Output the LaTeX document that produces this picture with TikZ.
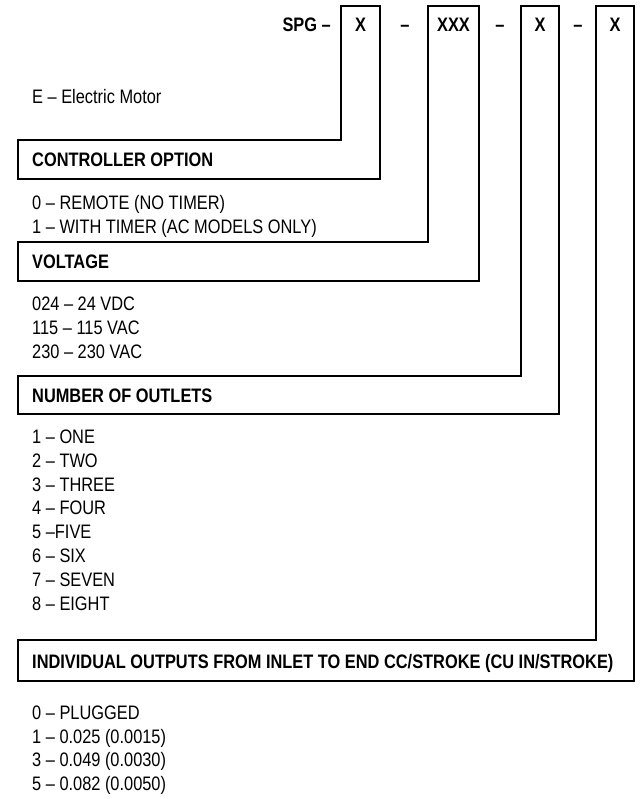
\documentclass[tikz,border=0pt]{standalone}
\usepackage{fontspec}
\setmainfont{Liberation Sans}[FakeStretch=0.84]
\begin{document}
\begin{tikzpicture}[x=1pt,y=-1pt,
		outline/.style={draw=black, line width=1.9pt, line join=miter},
		item/.style={anchor=base west, inner sep=0pt, font=\fontsize{19.5}{21}\selectfont},
		head/.style={anchor=base west, inner sep=0pt, font=\fontsize{19.5}{21}\selectfont\bfseries},
		code/.style={anchor=base, inner sep=0pt, font=\fontsize{19.5}{21}\selectfont\bfseries}]
			\useasboundingbox (0,0) rectangle (639,799);
			\draw[outline](341,6) -- (380,6) -- (380,179) -- (18,179) -- (18,140) -- (341,140) -- cycle;
			\draw[outline](428,6) -- (479,6) -- (479,281) -- (18,281) -- (18,242) -- (428,242) -- cycle;
			\draw[outline](521,6) -- (559,6) -- (559,414) -- (18,414) -- (18,376) -- (521,376) -- cycle;
			\draw[outline](596,6) -- (634,6) -- (634,681) -- (18,681) -- (18,640) -- (596,640) -- cycle;
			\node[code, anchor=base east] (spg) at (331,32) {SPG –};
			\node[code] (motor) at (360.5,32) {X};
			\node[code] (dasha) at (405,32) {–};
			\node[code] (volt) at (453.5,32) {XXX};
			\node[code] (dashb) at (500,32) {–};
			\node[code] (outl) at (540,32) {X};
			\node[code] (dashc) at (578,32) {–};
			\node[code] (outp) at (615,32) {X};
			\node[item] (e) at (32,104) {E – Electric Motor};
			\node[head] (ctrlhead) at (32,167) {CONTROLLER OPTION};
			\node[item] (ctrla) at (32,210) {0 – REMOTE (NO TIMER)};
			\node[item] (ctrlb) at (32,234) {1 – WITH TIMER (AC MODELS ONLY)};
			\node[head] (volthead) at (32,269) {VOLTAGE};
			\node[item] (volta) at (32,310) {024 – 24 VDC};
			\node[item] (voltb) at (32,334) {115 – 115 VAC};
			\node[item] (voltc) at (32,358) {230 – 230 VAC};
			\node[head] (outlhead) at (32,402) {NUMBER OF OUTLETS};
			\node[item] (outla) at (32,443) {1 – ONE};
			\node[item] (outlb) at (32,467) {2 – TWO};
			\node[item] (outlc) at (32,491) {3 – THREE};
			\node[item] (outld) at (32,514) {4 – FOUR};
			\node[item] (outle) at (32,538) {5 –FIVE};
			\node[item] (outlf) at (32,562) {6 – SIX};
			\node[item] (outlg) at (32,586) {7 – SEVEN};
			\node[item] (outlh) at (32,610) {8 – EIGHT};
			\node[head] (outphead) at (32,668) {INDIVIDUAL OUTPUTS FROM INLET TO END CC/STROKE (CU IN/STROKE)};
			\node[item] (outpa) at (32,719) {0 – PLUGGED};
			\node[item] (outpb) at (32,743) {1 – 0.025 (0.0015)};
			\node[item] (outpc) at (32,766) {3 – 0.049 (0.0030)};
			\node[item] (outpd) at (32,790) {5 – 0.082 (0.0050)};
		\end{tikzpicture}
\end{document}
